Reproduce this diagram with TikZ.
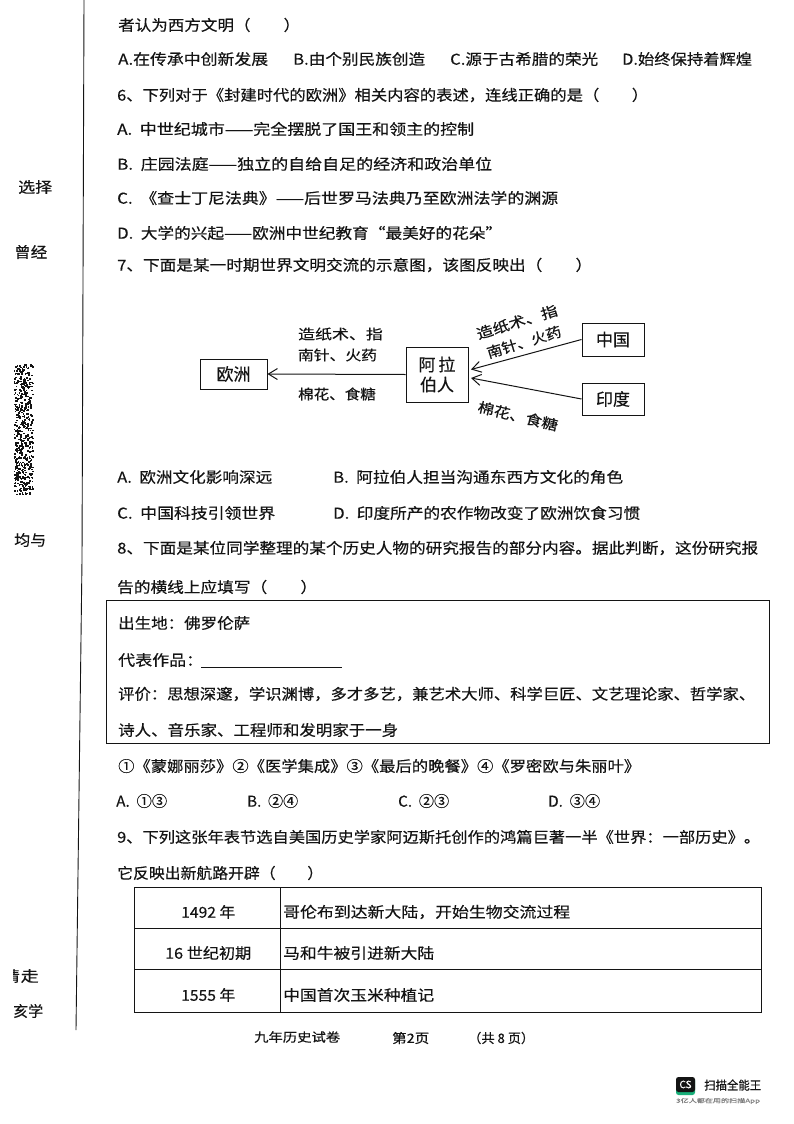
\documentclass[tikz,border=0pt]{standalone}
\usepackage{fontspec}
\usepackage{graphicx}
\setmainfont[FakeBold=0.35]{Noto Sans CJK SC}
\definecolor{ink}{HTML}{141414}
\definecolor{csgreen}{HTML}{19B07A}
\newcounter{tl}
\newsavebox{\tlbox}
\newcommand{\TW}[5][15]{%
  \stepcounter{tl}%
  \pgfinterruptpicture
  \global\setbox\tlbox=\hbox{\normalfont\fontsize{#1}{#1}\selectfont #5}%
  \endpgfinterruptpicture
  \pgfmathsetmacro{\tlr}{(#4)/\the\wd\tlbox}%
  \node[txt] (t\thetl) at (#2,#3) {\scalebox{\tlr}[1]{\usebox{\tlbox}}};%
}
\usetikzlibrary{arrows.meta}
\tikzset{
  txt/.style={anchor=west,inner sep=0pt,text=ink},
  flowbox/.style={draw=ink,line width=1pt,inner sep=0pt,text=ink,font=\fontsize{17}{20}\selectfont,align=center},
  flowlabel/.style={inner sep=0pt,text=ink,font=\fontsize{14}{16}\selectfont},
  flowarrow/.style={draw=ink,line width=1pt,-{Straight Barb[length=9pt,width=11pt]}},
  rule/.style={draw=ink,line width=0.9pt},
  margin/.style={draw=ink,line width=0.9pt}
}
\begin{document}
\begin{tikzpicture}[x=1pt,y=-1pt]
\useasboundingbox (0,0) rectangle (794,1124);
\fill[white] (0,0) rectangle (794,1124);
% margin rule
\coordinate (m1) at (84,0);
\coordinate (m2) at (82,560);
\coordinate (m3) at (76,1030);
\draw[margin] (m1) -- (m2) -- (m3);
% margin text
\TW{18}{187}{34}{选择}
\TW{14}{252}{33}{曾经}
\TW{14}{540}{32}{均与}
\begin{scope}
\clip (13,960) rectangle (19,992);
\TW{3.5}{976}{16}{请}
\end{scope}
\TW{20.5}{976}{18}{走}
\TW{13}{1011}{30}{亥学}
% noisy strip
\pgfmathsetseed{7}
\foreach \i in {1,...,560}{
  \pgfmathsetmacro{\nx}{13.5+19*rnd}
  \pgfmathsetmacro{\ny}{364+130*rnd}
  \fill[ink] (\nx,\ny) rectangle ++(1.6,1.6);
}
% question text
\TW{118}{25}{182}{者认为西方文明（\quad\quad）}
\TW{118}{59}{150}{A.在传承中创新发展}
\TW{293}{59}{132}{B.由个别民族创造}
\TW{450}{59}{148}{C.源于古希腊的荣光}
\TW{622}{59}{130}{D.始终保持着辉煌}
\TW{117}{95}{531}{6、下列对于《封建时代的欧洲》相关内容的表述，连线正确的是（\quad\quad）}
\TW{117}{129}{357}{A. \ 中世纪城市——完全摆脱了国王和领主的控制}
\TW{117}{164}{375}{B. \ 庄园法庭——独立的自给自足的经济和政治单位}
\TW{117}{198}{441}{C. \ 《查士丁尼法典》——后世罗马法典乃至欧洲法学的渊源}
\TW{117}{233}{385}{D. \ 大学的兴起——欧洲中世纪教育“最美好的花朵”}
\TW{117}{265}{475}{7、下面是某一时期世界文明交流的示意图，该图反映出（\quad\quad）}
% flow diagram
\node[flowbox,minimum width=67pt,minimum height=30pt] (eu) at (233.5,374) {欧洲};
\node[flowbox,minimum width=62pt,minimum height=55pt] (ar) at (437,374.5) {阿\,拉\\伯人};
\node[flowbox,minimum width=62pt,minimum height=33pt] (cn) at (613,339.5) {中国};
\node[flowbox,minimum width=62pt,minimum height=32pt] (in) at (613,399) {印度};
\draw[flowarrow] (ar.west) -- (eu.east);
\draw[flowarrow] (cn.west) -- ([xshift=2.5pt,yshift=5pt]ar.east);
\draw[flowarrow] (in.west) -- ([xshift=2.5pt,yshift=-3.5pt]ar.east);
\node[flowlabel] (la1) at (340.5,334) {\scalebox{1.21}[1]{造纸术、指}};
\node[flowlabel] (la2) at (337.5,355) {\scalebox{1.13}[1]{南针、火药}};
\node[flowlabel] (la3) at (337,394) {\scalebox{1.11}[1]{棉花、食糖}};
\node[flowlabel,rotate=17] (la4) at (517,322) {\scalebox{1.2}[1]{造纸术、指}};
\node[flowlabel,rotate=17] (la5) at (524,342) {\scalebox{1.1}[1]{南针、火药}};
\node[flowlabel,rotate=-13.5] (la6) at (518,416) {\scalebox{1.17}[1]{棉花、食糖}};
% options Q7
\TW{117}{477}{155}{A. \ 欧洲文化影响深远}
\TW{333}{477}{290}{B. \ 阿拉伯人担当沟通东西方文化的角色}
\TW{117}{513}{158}{C. \ 中国科技引领世界}
\TW{333}{513}{307}{D. \ 印度所产的农作物改变了欧洲饮食习惯}
\TW{117}{548}{641}{8、下面是某位同学整理的某个历史人物的研究报告的部分内容。据此判断，这份研究报}
\TW{117}{587}{200}{告的横线上应填写（\quad\quad）}
% report box
\coordinate (b1) at (106.5,600);
\coordinate (b2) at (769,743);
\draw[rule] (b1) rectangle (b2);
\TW{118}{623}{132}{出生地：佛罗伦萨}
\TW{118}{660}{85}{代表作品：}
\coordinate (u1) at (201,667);
\coordinate (u2) at (342,667);
\draw[rule,line width=0.7pt] (u1) -- (u2);
\TW{118}{694}{637}{评价：思想深邃，学识渊博，多才多艺，兼艺术大师、科学巨匠、文艺理论家、哲学家、}
\TW{118}{730}{280}{诗人、音乐家、工程师和发明家于一身}
\TW{118}{766}{522}{①《蒙娜丽莎》②《医学集成》③《最后的晚餐》④《罗密欧与朱丽叶》}
\TW{116}{801}{51}{A. \ ①③}
\TW{247}{801}{51}{B. \ ②④}
\TW{398}{801}{51}{C. \ ②③}
\TW{548}{801}{52}{D. \ ③④}
\TW{117}{837}{643}{9、下列这张年表节选自美国历史学家阿迈斯托创作的鸿篇巨著一半《世界：一部历史》。}
\TW{117}{873}{206}{它反映出新航路开辟（\quad\quad）}
% table
\coordinate (ta) at (134,887);
\coordinate (tb) at (761,1012);
\coordinate (c1) at (280,887);
\coordinate (c2) at (280,1012);
\coordinate (r1a) at (134,928);
\coordinate (r1b) at (761,928);
\coordinate (r2a) at (134,969);
\coordinate (r2b) at (761,969);
\draw[rule] (ta) rectangle (tb);
\draw[rule] (c1) -- (c2);
\draw[rule] (r1a) -- (r1b);
\draw[rule] (r2a) -- (r2b);
\TW{181}{912}{54}{1492 年}
\TW{165}{953}{86}{16 世纪初期}
\TW{181}{995}{54}{1555 年}
\TW{283}{912}{287}{哥伦布到达新大陆，开始生物交流过程}
\TW{283}{953}{151}{马和牛被引进新大陆}
\TW{283}{995}{151}{中国首次玉米种植记}
% footer
\TW[12.5]{254}{1037}{86}{九年历史试卷}
\TW[13]{392}{1038}{37}{第2页}
\TW[13]{468}{1038}{66}{（共 8 页）}
% scanner logo
\fill[csgreen,rounded corners=2.5pt] (676,1078) rectangle (695,1095);
\fill[ink,rounded corners=2.5pt] (676,1077) rectangle (695,1092);
\node[inner sep=0pt,text=white,font=\fontsize{10}{10}\selectfont] (cs) at (685.5,1084.5) {CS};
\TW[12]{704}{1085}{57}{扫描全能王}
\TW[5.5]{676}{1101}{84}{\textcolor{gray}{3亿人都在用的扫描App}}
\end{tikzpicture}
\end{document}
